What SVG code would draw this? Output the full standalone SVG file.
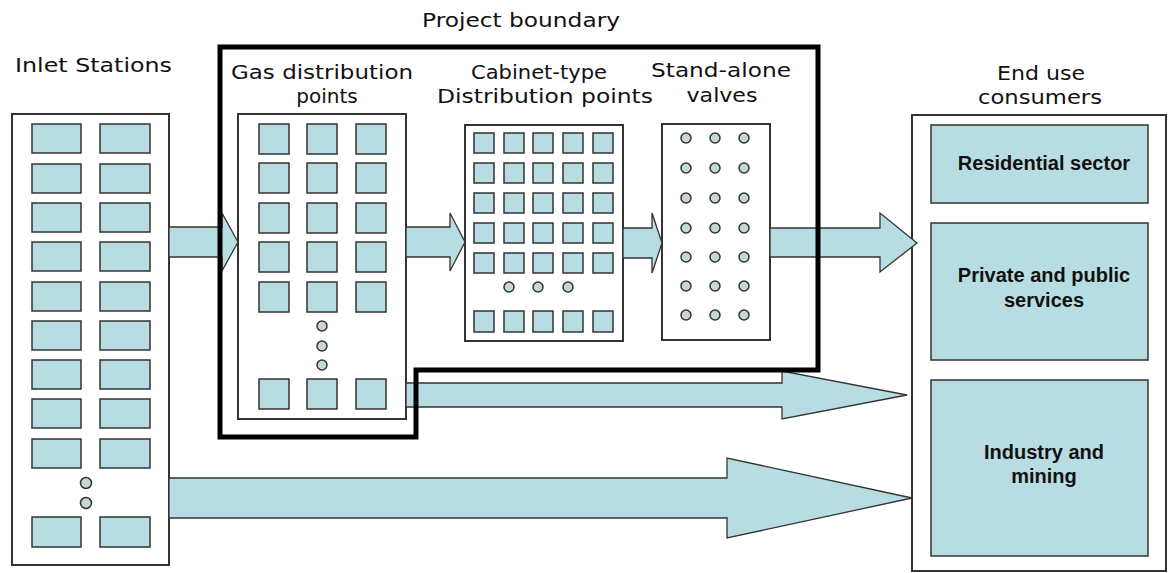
<svg xmlns="http://www.w3.org/2000/svg" width="1168" height="573" viewBox="0 0 1168 573">
<style>
.frame{fill:#fff;stroke:#333;stroke-width:2}
.sq{fill:#b7dde2;stroke:#333;stroke-width:1.5}
.dot{fill:#c6d7d7;stroke:#333;stroke-width:1.5}
.arr{fill:#b7dde2;stroke:#333;stroke-width:1.3;stroke-linejoin:miter}
.ttl{font-family:"DejaVu Sans",Verdana,sans-serif;font-size:20px;fill:#111}
.lbl{font-family:"Liberation Sans",Arial,sans-serif;font-size:20px;font-weight:bold;fill:#111;text-anchor:middle}
.bnd{fill:none;stroke:#000;stroke-width:5}
</style>
<rect width="1168" height="573" fill="#fff"/>

<text class="ttl" x="422" y="27" textLength="198" lengthAdjust="spacingAndGlyphs">Project boundary</text>

<g id="inlet-stations">
<text class="ttl" x="15" y="72" textLength="157" lengthAdjust="spacingAndGlyphs">Inlet Stations</text>
<rect class="frame" x="12" y="114" width="157" height="451"/>
<rect class="sq" x="32" y="124" width="49" height="29"/><rect class="sq" x="100" y="124" width="50" height="29"/>
<rect class="sq" x="32" y="164" width="49" height="29"/><rect class="sq" x="100" y="164" width="50" height="29"/>
<rect class="sq" x="32" y="203" width="49" height="29"/><rect class="sq" x="100" y="203" width="50" height="29"/>
<rect class="sq" x="32" y="242" width="49" height="29"/><rect class="sq" x="100" y="242" width="50" height="29"/>
<rect class="sq" x="32" y="282" width="49" height="29"/><rect class="sq" x="100" y="282" width="50" height="29"/>
<rect class="sq" x="32" y="321" width="49" height="29"/><rect class="sq" x="100" y="321" width="50" height="29"/>
<rect class="sq" x="32" y="360" width="49" height="29"/><rect class="sq" x="100" y="360" width="50" height="29"/>
<rect class="sq" x="32" y="399" width="49" height="29"/><rect class="sq" x="100" y="399" width="50" height="29"/>
<rect class="sq" x="32" y="439" width="49" height="29"/><rect class="sq" x="100" y="439" width="50" height="29"/>
<circle class="dot" cx="86" cy="483" r="5.5"/><circle class="dot" cx="86" cy="503" r="5.5"/>
<rect class="sq" x="32" y="517" width="49" height="30"/><rect class="sq" x="100" y="517" width="50" height="30"/>
</g>

<g id="gas-distribution-points">
<text class="ttl" x="231" y="79" textLength="182" lengthAdjust="spacingAndGlyphs">Gas distribution</text>
<text class="ttl" x="327" y="103" text-anchor="middle">points</text>
<rect class="frame" x="238" y="114" width="168" height="305"/>
<rect class="sq" x="259" y="124" width="30" height="30"/><rect class="sq" x="307" y="124" width="30" height="30"/><rect class="sq" x="356" y="124" width="30" height="30"/>
<rect class="sq" x="259" y="163" width="30" height="30"/><rect class="sq" x="307" y="163" width="30" height="30"/><rect class="sq" x="356" y="163" width="30" height="30"/>
<rect class="sq" x="259" y="203" width="30" height="30"/><rect class="sq" x="307" y="203" width="30" height="30"/><rect class="sq" x="356" y="203" width="30" height="30"/>
<rect class="sq" x="259" y="242" width="30" height="30"/><rect class="sq" x="307" y="242" width="30" height="30"/><rect class="sq" x="356" y="242" width="30" height="30"/>
<rect class="sq" x="259" y="282" width="30" height="30"/><rect class="sq" x="307" y="282" width="30" height="30"/><rect class="sq" x="356" y="282" width="30" height="30"/>
<circle class="dot" cx="322" cy="326" r="5"/><circle class="dot" cx="322" cy="346" r="5"/><circle class="dot" cx="322" cy="365" r="5"/>
<rect class="sq" x="259" y="379" width="30" height="30"/><rect class="sq" x="307" y="379" width="30" height="30"/><rect class="sq" x="356" y="379" width="30" height="30"/>
</g>

<g id="cabinet-distribution-points">
<text class="ttl" x="539" y="79" text-anchor="middle" textLength="136" lengthAdjust="spacingAndGlyphs">Cabinet-type</text>
<text class="ttl" x="545" y="103" text-anchor="middle" textLength="216" lengthAdjust="spacingAndGlyphs">Distribution points</text>
<rect class="frame" x="465" y="125" width="158" height="216"/>
<g>
<rect class="sq" x="474" y="133" width="20" height="20"/><rect class="sq" x="504" y="133" width="20" height="20"/><rect class="sq" x="533" y="133" width="20" height="20"/><rect class="sq" x="563" y="133" width="20" height="20"/><rect class="sq" x="593" y="133" width="20" height="20"/>
<rect class="sq" x="474" y="163" width="20" height="20"/><rect class="sq" x="504" y="163" width="20" height="20"/><rect class="sq" x="533" y="163" width="20" height="20"/><rect class="sq" x="563" y="163" width="20" height="20"/><rect class="sq" x="593" y="163" width="20" height="20"/>
<rect class="sq" x="474" y="193" width="20" height="20"/><rect class="sq" x="504" y="193" width="20" height="20"/><rect class="sq" x="533" y="193" width="20" height="20"/><rect class="sq" x="563" y="193" width="20" height="20"/><rect class="sq" x="593" y="193" width="20" height="20"/>
<rect class="sq" x="474" y="223" width="20" height="20"/><rect class="sq" x="504" y="223" width="20" height="20"/><rect class="sq" x="533" y="223" width="20" height="20"/><rect class="sq" x="563" y="223" width="20" height="20"/><rect class="sq" x="593" y="223" width="20" height="20"/>
<rect class="sq" x="474" y="253" width="20" height="20"/><rect class="sq" x="504" y="253" width="20" height="20"/><rect class="sq" x="533" y="253" width="20" height="20"/><rect class="sq" x="563" y="253" width="20" height="20"/><rect class="sq" x="593" y="253" width="20" height="20"/>
<circle class="dot" cx="509" cy="287" r="5"/><circle class="dot" cx="538" cy="287" r="5"/><circle class="dot" cx="568" cy="287" r="5"/>
<rect class="sq" x="474" y="311" width="20" height="21"/><rect class="sq" x="504" y="311" width="20" height="21"/><rect class="sq" x="533" y="311" width="20" height="21"/><rect class="sq" x="563" y="311" width="20" height="21"/><rect class="sq" x="593" y="311" width="20" height="21"/>
</g>
</g>

<g id="stand-alone-valves">
<text class="ttl" x="721" y="77" text-anchor="middle" textLength="140" lengthAdjust="spacingAndGlyphs">Stand-alone</text>
<text class="ttl" x="722" y="102" text-anchor="middle" textLength="71" lengthAdjust="spacingAndGlyphs">valves</text>
<rect class="frame" x="662" y="124" width="108" height="216"/>
<circle class="dot" cx="686" cy="138" r="5"/><circle class="dot" cx="715" cy="138" r="5"/><circle class="dot" cx="744" cy="138" r="5"/>
<circle class="dot" cx="686" cy="168" r="5"/><circle class="dot" cx="715" cy="168" r="5"/><circle class="dot" cx="744" cy="168" r="5"/>
<circle class="dot" cx="686" cy="198" r="5"/><circle class="dot" cx="715" cy="198" r="5"/><circle class="dot" cx="744" cy="198" r="5"/>
<circle class="dot" cx="686" cy="228" r="5"/><circle class="dot" cx="715" cy="228" r="5"/><circle class="dot" cx="744" cy="228" r="5"/>
<circle class="dot" cx="686" cy="257" r="5"/><circle class="dot" cx="715" cy="257" r="5"/><circle class="dot" cx="744" cy="257" r="5"/>
<circle class="dot" cx="686" cy="286" r="5"/><circle class="dot" cx="715" cy="286" r="5"/><circle class="dot" cx="744" cy="286" r="5"/>
<circle class="dot" cx="686" cy="315" r="5"/><circle class="dot" cx="715" cy="315" r="5"/><circle class="dot" cx="744" cy="315" r="5"/>
</g>

<g id="end-use-consumers">
<text class="ttl" x="1041" y="80" text-anchor="middle" textLength="88" lengthAdjust="spacingAndGlyphs">End use</text>
<text class="ttl" x="1040" y="104" text-anchor="middle" textLength="124" lengthAdjust="spacingAndGlyphs">consumers</text>
<rect class="frame" x="912" y="115" width="254" height="456"/>
<g id="residential-sector">
<rect class="sq" x="931" y="125" width="217" height="78"/>
<text class="lbl" x="1044" y="170">Residential sector</text>
</g>
<g id="private-public-services">
<rect class="sq" x="931" y="223" width="217" height="137"/>
<text class="lbl" x="1044" y="282">Private and public</text>
<text class="lbl" x="1044" y="307">services</text>
</g>
<g id="industry-mining">
<rect class="sq" x="931" y="380" width="217" height="176"/>
<text class="lbl" x="1044" y="459">Industry and</text>
<text class="lbl" x="1044" y="483">mining</text>
</g>
</g>

<g id="connectors">
<polygon class="arr" points="169,227 222,227 222,213 238,242 222,271 222,257 169,257"/>
<polygon class="arr" points="406,227 450,227 450,213 465,242 450,271 450,257 406,257"/>
<polygon class="arr" points="623,228 652,228 652,213 662,243 652,273 652,258 623,258"/>
<polygon class="arr" points="770,228 880,228 880,213 917,243 880,272 880,257 770,257"/>
<polygon class="arr" points="406,383 782,383 782,371 907,395 782,419 782,407 406,407"/>
<polygon class="arr" points="169,478 727,478 727,458 912,498 727,538 727,518 169,518"/>
</g>

<g id="project-boundary">
<path class="bnd" d="M220,47 H818 V370 H416 V437 H220 Z"/>
</g>
</svg>
